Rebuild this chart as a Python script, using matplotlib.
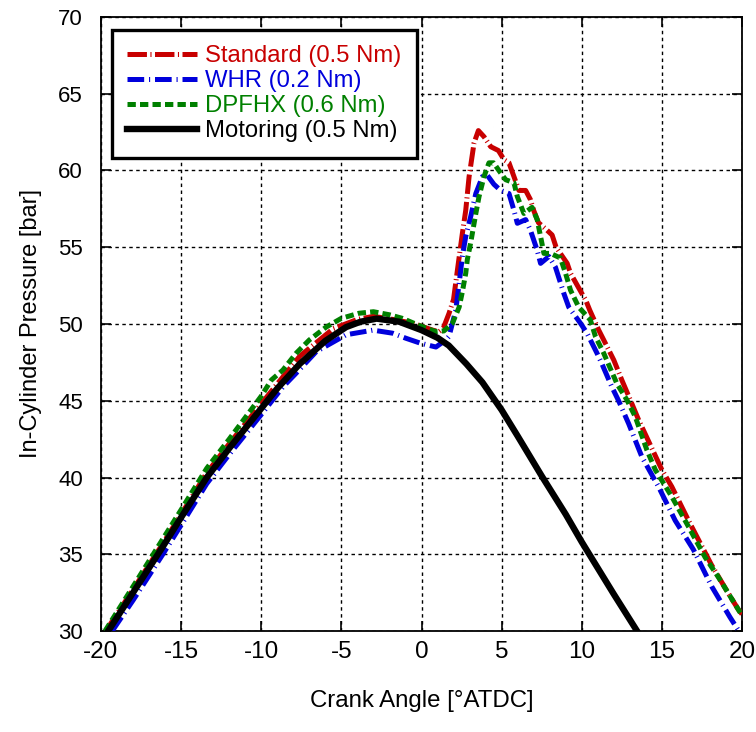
import matplotlib
matplotlib.use("Agg")
import matplotlib.pyplot as plt
from matplotlib import font_manager as fm

# ---------------- data ----------------
mot_x = [-19.55, -18.0, -16.2, -15.0, -13.4, -12.0, -10.0, -9.0, -7.6, -6.0, -4.7, -3.8, -2.8,
         -1.4, 0.0, 1.0, 1.7, 2.8, 3.8, 5.0, 6.0, 7.5, 9.0, 10.0, 11.0, 12.0, 13.45]
mot_y = [30.0, 32.5, 35.4, 37.4, 40.0, 41.9, 44.5, 45.8, 47.4, 48.9, 49.8, 50.15, 50.35,
         50.15, 49.6, 49.1, 48.6, 47.4, 46.2, 44.4, 42.7, 40.1, 37.6, 35.8, 34.1, 32.4, 30.0]

std_x = [-19.7, -18.0, -16.2, -15.0, -13.4, -12.0, -10.0, -9.0, -7.6, -5.5, -4.0, -3.0, -1.8,
         -0.55, 0.7, 1.1, 1.35, 1.72, 2.0, 2.24, 2.55, 2.76, 2.97, 3.28, 3.55, 3.9, 4.32, 4.8,
         5.15, 5.46, 5.77, 6.08, 6.5, 6.8, 7.0, 7.3, 7.74, 8.15, 8.4, 9.09, 9.3, 10.0, 10.23,
         10.5, 11.06, 11.37, 12.0, 12.5, 13.03, 13.55, 15.0, 15.62, 16.66, 18.1, 19.15, 19.77, 20.0]
std_y = [30.0, 32.7, 35.6, 37.6, 40.3, 42.2, 44.8, 46.1, 47.9, 49.7, 50.3, 50.5, 50.3,
         50.05, 49.6, 49.5, 49.7, 50.7, 51.6, 53.5, 55.9, 57.4, 59.6, 61.8, 62.6, 62.2, 61.55, 61.3,
         60.7, 60.5, 59.6, 58.7, 58.7, 58.1, 57.4, 56.6, 56.2, 55.8, 55.0, 53.95, 53.3, 52.0, 51.6,
         50.9, 49.6, 48.96, 47.65, 46.35, 45.05, 43.75, 40.5, 39.4, 37.2, 34.3, 32.45, 31.4, 31.1]

whr_x = [-19.3, -18.0, -16.2, -15.0, -13.4, -12.0, -10.0, -8.65, -7.82, -6.57, -4.7, -3.03, -1.8,
         -0.97, -0.04, 0.9, 1.52, 1.72, 2.14, 2.35, 2.55, 2.76, 3.07, 3.39, 3.8, 4.1, 4.52, 4.94,
         5.46, 5.77, 5.98, 6.5, 6.8, 7.22, 7.43, 7.95, 8.36, 8.88, 9.19, 9.92, 10.33, 10.95, 11.26,
         11.88, 12.3, 12.93, 13.75, 14.79, 15.83, 16.97, 18.11, 19.25, 19.8]
whr_y = [30.0, 32.0, 34.9, 36.9, 39.6, 41.5, 44.1, 45.9, 46.8, 48.2, 49.3, 49.6, 49.4,
         49.07, 48.74, 48.5, 48.96, 49.2, 50.9, 52.65, 54.4, 55.7, 57.0, 58.5, 59.6, 59.7, 59.1, 58.7,
         58.5, 57.4, 56.56, 56.8, 56.1, 54.8, 53.95, 54.4, 53.7, 52.0, 51.1, 50.05, 49.4, 48.1, 47.4,
         45.9, 45.0, 43.5, 41.35, 39.4, 37.2, 35.3, 32.9, 30.9, 30.0]

dp_x = [-19.75, -18.0, -16.2, -15.0, -13.4, -12.0, -10.0, -9.37, -8.65, -7.82, -7.0, -5.95, -5.0,
        -3.9, -3.0, -2.0, -1.2, -0.14, 0.9, 1.4, 1.93, 2.35, 2.55, 2.76, 2.86, 3.07, 3.39, 3.59,
        3.9, 4.21, 4.5, 4.83, 5.25, 5.77, 5.98, 6.39, 6.9, 7.22, 7.43, 7.64, 8.05, 8.67, 8.99,
        9.3, 9.81, 10.54, 10.85, 11.37, 12.2, 12.82, 13.34, 14.06, 14.59, 15.62, 16.66, 17.7,
        18.53, 19.15, 19.77, 20.0]
dp_y = [30.0, 32.9, 35.9, 37.9, 40.6, 42.5, 45.3, 46.35, 47.0, 48.1, 48.96, 49.8, 50.37,
        50.7, 50.8, 50.6, 50.37, 49.9, 49.5, 49.55, 50.05, 51.1, 52.1, 53.3, 54.2, 55.3, 57.2, 58.3,
        59.6, 60.5, 60.5, 60.0, 59.4, 59.2, 58.3, 57.2, 57.6, 56.8, 55.7, 54.6, 54.6, 54.3, 53.3,
        52.2, 51.1, 50.26, 49.2, 48.1, 46.1, 45.05, 43.96, 41.8, 40.5, 38.75, 36.8, 34.8,
        33.5, 32.45, 31.4, 31.0]

labels = ["Standard (0.5 Nm)", "WHR (0.2 Nm)", "DPFHX (0.6 Nm)", "Motoring (0.5 Nm)"]
colors = ["#c80000", "#0000dc", "#008000", "#000000"]
x_ticks = [-20, -15, -10, -5, 0, 5, 10, 15, 20]
y_ticks = [30, 35, 40, 45, 50, 55, 60, 65, 70]

# ---------------- fonts ----------------
names = {f.name for f in fm.fontManager.ttflist}
base = "Liberation Sans" if "Liberation Sans" in names else "DejaVu Sans"
plt.rcParams["font.family"] = [base, "DejaVu Sans"]
plt.rcParams["lines.scale_dashes"] = False

fig = plt.figure(figsize=(7.56, 7.32), dpi=100)
ax = fig.add_axes([101 / 756, 1 - 631 / 732, 641 / 756, 614 / 732])

lw = 3.6
ax.plot(std_x, std_y, color=colors[0], lw=lw, dashes=(14, 2.5, 0.8, 2.5), label=labels[0], zorder=3)
ax.plot(whr_x, whr_y, color=colors[1], lw=lw, dashes=(12, 3.5, 0.8, 3.5), label=labels[1], zorder=3)
ax.plot(dp_x, dp_y, color=colors[2], lw=lw, dashes=(6, 3), label=labels[2], zorder=3.5)
ax.plot(mot_x, mot_y, color=colors[3], lw=4.6, label=labels[3], zorder=4)

ax.set_xlim(-20, 20)
ax.set_ylim(30, 70)
ax.set_xticks(x_ticks)
ax.set_yticks(y_ticks)
ax.set_xticklabels([str(v) for v in x_ticks], fontsize=17.5)
ax.set_yticklabels([str(v) for v in y_ticks], fontsize=16)
ax.tick_params(direction="in", length=7, width=1.2, top=True, right=True)
ax.tick_params(axis="x", pad=7)
ax.tick_params(axis="y", pad=13)
ax.grid(True, color="black", linestyle=(0, (2.5, 2.5)), lw=1.0, zorder=1)
for s in ax.spines.values():
    s.set_linewidth(1.3)

ax.set_xlabel("Crank Angle [°ATDC]", fontsize=17.3, labelpad=20)
ax.set_ylabel("In-Cylinder Pressure [bar]", fontsize=17, labelpad=12)

leg = ax.legend(loc="upper left", bbox_to_anchor=(0.017, 0.979), borderaxespad=0,
                fontsize=17.2, handlelength=2.9, handletextpad=0.35, labelspacing=0.12,
                borderpad=0.65, fancybox=False, framealpha=1, edgecolor="black")
leg.get_frame().set_linewidth(2.4)
leg.set_zorder(10)
for t, c in zip(leg.get_texts(), colors):
    t.set_color(c)

fig.savefig("out.png", dpi=100)
